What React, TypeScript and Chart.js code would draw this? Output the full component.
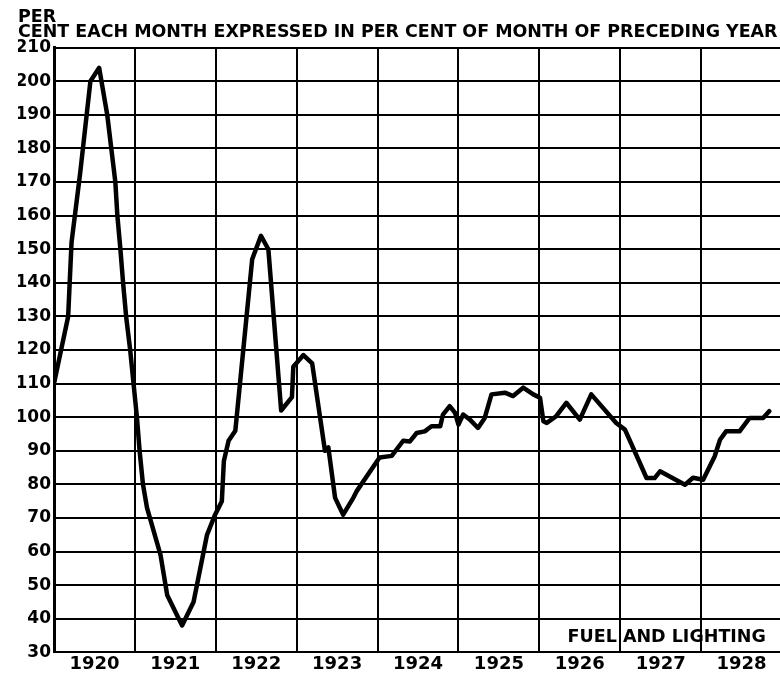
import React, { useEffect, useRef } from 'react';
import { Chart, registerables } from 'chart.js';

Chart.register(...registerables);

// Months elapsed since January 1920 (vertices of the traced curve)
const monthIndex = [
  0, 2.1, 2.6, 3.9, 5.4, 6.7, 7.9, 8.5, 9.1, 9.4, 9.85, 10.25, 10.7, 11.3, 11.8, 12.3, 12.7, 13.2, 13.8,
  15.8, 16.8, 19.0, 20.7, 22.7, 23.9, 24.9, 25.2, 25.9, 26.9, 29.4, 30.7, 31.8, 33.7, 35.3, 35.5, 37.0,
  38.3, 40.2, 40.7, 41.7, 42.9, 44.4, 44.9, 48.3, 50.1, 51.8, 52.8, 53.8, 55.0, 56.0, 57.3, 57.7, 58.7,
  59.5, 60.0, 60.7, 61.7, 62.9, 63.9, 64.9, 66.9, 68.1, 69.6, 71.1, 72.1, 72.6, 73.1, 74.5, 76.0, 78.0,
  79.7, 83.4, 84.7, 86.6, 87.9, 89.1, 89.9, 93.6, 94.8, 96.3, 98.0, 98.8, 99.7, 101.7, 103.2, 105.2, 106.1,
];

// Per cent of same month of preceding year
const percentValues = [
  110, 130, 152, 173, 200, 204, 190, 180, 170, 160, 150, 140, 130, 120, 110, 100, 90, 80, 73,
  59, 47, 38, 45, 65, 71, 75, 87, 93, 96, 147, 154, 150, 102, 106, 115, 118.5,
  116, 90, 91, 76, 71, 76, 78, 88, 88.5, 93, 92.8, 95.3, 95.8, 97.3, 97.3, 100.8, 103.3,
  101.3, 97.8, 100.8, 99.3, 96.8, 99.8, 106.8, 107.3, 106.3, 108.8, 106.8, 105.8, 98.8, 98.3, 100.3, 104.3, 99.3,
  106.8, 98.3, 96.3, 87.8, 81.9, 81.9, 83.9, 79.9, 82, 81.4, 88.3, 93.3, 95.8, 95.8, 99.8, 99.8, 101.8,
];

const yearLabels = ['1920', '1921', '1922', '1923', '1924', '1925', '1926', '1927', '1928'];
const titleLines = ['PER', 'CENT EACH MONTH EXPRESSED IN PER CENT OF MONTH OF PRECEDING YEAR'];
const panelLabel = 'FUEL AND LIGHTING';

const FONT = '"DejaVu Sans", "Liberation Sans", sans-serif';
const X_MAX = 107.7;

export default function App() {
  const ref = useRef<HTMLCanvasElement>(null);

  useEffect(() => {
    if (!ref.current) return;
    const labelPlugin = {
      id: 'panelLabel',
      afterDraw(chart: any) {
        const { ctx } = chart;
        const x = chart.scales.x;
        const y = chart.scales.y;
        ctx.save();
        ctx.font = `bold 17.5px ${FONT}`;
        ctx.fillStyle = '#000';
        ctx.textAlign = 'right';
        ctx.textBaseline = 'middle';
        ctx.fillText(panelLabel, x.getPixelForValue(105.6), y.getPixelForValue(34.4));
        ctx.restore();
      },
    };

    const chart = new Chart(ref.current, {
      type: 'line',
      data: {
        datasets: [
          {
            data: monthIndex.map((m, i) => ({ x: m, y: percentValues[i] })),
            borderColor: '#000',
            borderWidth: 4.5,
            pointRadius: 0,
            tension: 0,
            borderJoinStyle: 'round',
            borderCapStyle: 'round',
          },
        ],
      },
      options: {
        animation: false,
        responsive: false,
        layout: { padding: { left: 18, right: -6, top: 0, bottom: 4 } },
        plugins: {
          legend: { display: false },
          tooltip: { enabled: false },
          title: {
            display: true,
            text: titleLines,
            align: 'start',
            color: '#000',
            font: { family: FONT, size: 17.45, weight: 'bold', lineHeight: 0.85 },
            padding: { top: 10, bottom: 8 },
          },
        },
        scales: {
          x: {
            type: 'linear',
            min: 0,
            max: X_MAX,
            afterBuildTicks: (s: any) => {
              const t = [];
              for (let v = 0; v <= X_MAX; v += 6) t.push({ value: v });
              s.ticks = t;
            },
            ticks: {
              autoSkip: false,
              maxRotation: 0,
              color: '#000',
              padding: 1,
              font: { family: FONT, size: 18, weight: 'bold' },
              callback: (v: any) => (v % 12 === 6 ? yearLabels[(v - 6) / 12] : ''),
            },
            grid: {
              color: (c: any) => (c.tick && c.tick.value % 12 === 0 ? '#000' : 'rgba(0,0,0,0)'),
              lineWidth: 2,
              drawTicks: false,
            },
            border: { display: false },
          },
          y: {
            min: 30,
            max: 210,
            afterFit: (s: any) => {
              s.width = 36;
            },
            ticks: {
              stepSize: 10,
              color: '#000',
              padding: 3,
              font: { family: FONT, size: 17, weight: 'bold' },
            },
            grid: { color: '#000', lineWidth: 2, drawTicks: false },
            border: { color: '#000', width: 3 },
          },
        },
      },
      plugins: [labelPlugin],
    } as any);

    return () => chart.destroy();
  }, []);

  return (
    <div style={{ position: 'fixed', left: 0, top: 0, width: 780, height: 680, background: '#fff' }}>
      <canvas ref={ref} width={780} height={680} />
    </div>
  );
}
